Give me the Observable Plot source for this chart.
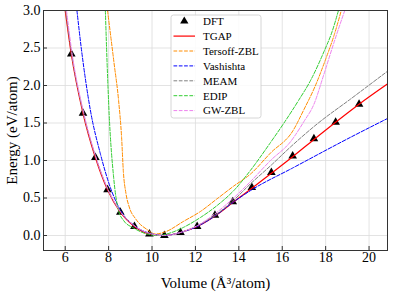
<!DOCTYPE html>
<html>
<head>
<meta charset="utf-8">
<script src="https://cdn.jsdelivr.net/npm/d3@7"></script>
<script src="https://cdn.jsdelivr.net/npm/@observablehq/plot@0.6"></script>
<style>
  html, body { margin: 0; padding: 0; background: #fff; }
  svg { display: block; }
</style>
</head>
<body>
<div id="chart"></div>
<script>
// ---- data ----
const xTicks = [6, 8, 10, 12, 14, 16, 18, 20];
const yTicks = [0, 0.5, 1.0, 1.5, 2.0, 2.5, 3.0];

const dftVol = [6.28, 6.82, 7.39, 7.95, 8.54, 9.19, 9.88, 10.57, 11.31, 12.08, 12.9, 13.72, 14.6, 15.5, 16.48, 17.46, 18.46, 19.54];
const dftE   = [2.42, 1.63, 1.04, 0.61, 0.31, 0.12, 0.02, 0.0, 0.04, 0.12, 0.27, 0.45, 0.64, 0.84, 1.06, 1.29, 1.51, 1.75];

const tgapVol = [6.0, 6.28, 6.82, 7.39, 7.95, 8.54, 9.19, 9.88, 10.57, 11.31, 12.08, 12.9, 13.72, 14.6, 15.5, 16.48, 17.46, 18.46, 19.54, 20.85];
const tgapE   = [3.0, 2.42, 1.63, 1.04, 0.61, 0.31, 0.12, 0.02, 0.0, 0.04, 0.12, 0.26, 0.44, 0.63, 0.83, 1.05, 1.28, 1.51, 1.75, 2.02];

const tersoffVol = [7.95, 8.25, 8.46, 8.6, 8.68, 8.8, 8.95, 9.25, 9.77, 10.15, 10.62, 11.46, 12.23, 13.0, 13.77, 14.54, 15.46, 16.5, 17.0, 17.5, 18.0, 18.4, 18.72];
const tersoffE   = [3.0, 2.3, 1.8, 1.3, 0.85, 0.56, 0.38, 0.22, 0.08, 0.02, 0.05, 0.19, 0.32, 0.49, 0.66, 0.82, 1.1, 1.4, 1.68, 1.98, 2.35, 2.68, 3.0];

const vashVol = [6.54, 6.74, 7.16, 7.62, 8.08, 8.54, 9.19, 9.88, 10.57, 11.31, 12.08, 12.9, 13.72, 14.6, 16.48, 19.15, 20.85];
const vashE   = [3.0, 2.5, 1.67, 1.09, 0.64, 0.34, 0.13, 0.03, 0.0, 0.04, 0.12, 0.26, 0.44, 0.61, 0.9, 1.31, 1.56];

const meamVol = [6.02, 6.28, 6.82, 7.39, 7.95, 8.54, 9.19, 9.88, 10.57, 11.31, 12.08, 12.9, 13.72, 14.54, 15.5, 16.38, 17.62, 19.15, 20.85];
const meamE   = [3.0, 2.45, 1.65, 1.06, 0.62, 0.32, 0.13, 0.03, 0.0, 0.04, 0.13, 0.27, 0.46, 0.69, 0.94, 1.18, 1.49, 1.82, 2.19];

const edipVol = [7.85, 7.93, 8.02, 8.23, 8.46, 8.69, 9.15, 9.77, 10.3, 10.9, 11.46, 12.23, 13.0, 13.77, 14.54, 15.46, 16.08, 16.75, 17.31, 17.92, 18.3, 18.59];
const edipE   = [3.0, 2.3, 1.65, 0.78, 0.33, 0.2, 0.1, 0.02, 0.0, 0.04, 0.11, 0.24, 0.4, 0.6, 0.87, 1.24, 1.5, 1.8, 2.07, 2.45, 2.72, 3.0];

const gwVol = [6.06, 6.3, 6.85, 7.4, 7.95, 8.54, 9.19, 9.88, 10.57, 11.31, 12.08, 12.9, 13.72, 14.54, 15.46, 16.38, 17.0, 17.46, 17.92, 18.38, 18.88];
const gwE   = [3.0, 2.46, 1.64, 1.06, 0.63, 0.32, 0.13, 0.03, 0.0, 0.04, 0.13, 0.29, 0.49, 0.72, 1.0, 1.25, 1.52, 1.75, 2.15, 2.57, 3.0];

const seriesNames = ["TGAP", "Tersoff-ZBL", "Vashishta", "MEAM", "EDIP", "GW-ZBL"];
const seriesColors = ["#ff0000", "#ff8c00", "#0000ff", "#808080", "#32cd32", "#ee82ee"];
const seriesDash = [null, "3.7,1.6", "3.7,1.6", "3.7,1.6", "3.7,1.6", "3.7,1.6"];
const seriesVols = [tgapVol, tersoffVol, vashVol, meamVol, edipVol, gwVol];
const seriesEs = [tgapE, tersoffE, vashE, meamE, edipE, gwE];

// ---- build tables ----
const dft = dftVol.map((v, i) => ({vol: v, e: dftE[i]}));
const series = seriesNames.map((name, k) => ({
  name, color: seriesColors[k], dash: seriesDash[k],
  data: seriesVols[k].map((v, i) => ({vol: v, e: seriesEs[k][i]}))
}));

const font = "'Liberation Serif', 'DejaVu Serif', serif";

const plot = Plot.plot({
  width: 396,
  height: 297,
  marginLeft: 43,
  marginRight: 9,
  marginTop: 10,
  marginBottom: 47,
  style: {fontFamily: font, fontSize: "13px", background: "#fff", color: "#000"},
  x: {domain: [5, 20.85]},
  y: {domain: [-0.2, 3.0]},
  marks: [
    Plot.gridX(xTicks, {stroke: "#dcdcdc", strokeOpacity: 1, strokeWidth: 0.8}),
    Plot.gridY(yTicks, {stroke: "#dcdcdc", strokeOpacity: 1, strokeWidth: 0.8}),
    // inward ticks
    Plot.axisX({ticks: xTicks, tickSize: 4, dy: -4, tickFormat: () => "", label: null, stroke: "#333"}),
    Plot.axisY({ticks: yTicks, tickSize: 4, dx: 4, tickFormat: () => "", label: null, stroke: "#333"}),
    // labels
    Plot.axisX({ticks: xTicks, tickSize: 0, tickPadding: 2, fontSize: 14, tickFormat: d => d3.format("d")(d),
      label: "Volume (Å³/atom)", labelAnchor: "center", labelArrow: "none", labelOffset: 37}),
    Plot.axisY({ticks: yTicks, tickSize: 0, tickPadding: 3, fontSize: 14, tickFormat: d => d3.format(".1f")(d),
      label: "Energy (eV/atom)", labelAnchor: "center", labelArrow: "none", labelOffset: 37}),
    Plot.dot(dft, {x: "vol", y: "e", symbol: "triangle", r: 3.2, fill: "#000", stroke: "none"}),
    ...series.map(s => Plot.line(s.data, {
      x: "vol", y: "e", stroke: s.color, strokeWidth: s.dash ? 1 : 1.2,
      strokeDasharray: s.dash, curve: "monotone-x", clip: true
    })),
    Plot.frame({stroke: "#333", strokeWidth: 1})
  ]
});

document.getElementById("chart").appendChild(plot);

const svg = d3.select(plot);
// axis titles
svg.selectAll('g[aria-label$="-axis label"] text').style("font-size", "15px").style("font-family", font);

// ---- legend inside plot area ----
const lg = svg.append("g").attr("text-anchor", "start");
lg.append("rect")
  .attr("x", 171).attr("y", 15).attr("width", 90).attr("height", 103)
  .attr("rx", 2.5).attr("fill", "#fff").attr("fill-opacity", 0.85)
  .attr("stroke", "#cccccc").attr("stroke-width", 0.8);
const rowY = i => 21.2 + i * 14.9;
const legendItems = [{name: "DFT", marker: true}].concat(series);
legendItems.forEach((it, i) => {
  const y = rowY(i);
  if (it.marker) {
    lg.append("path").attr("d", d3.symbol(d3.symbolTriangle, 30)())
      .attr("transform", `translate(184.3,${y})`).attr("fill", "#000");
  } else {
    lg.append("line").attr("x1", 173.5).attr("x2", 195).attr("y1", y).attr("y2", y)
      .attr("stroke", it.color).attr("stroke-width", it.dash ? 1 : 1.2)
      .attr("stroke-dasharray", it.dash);
  }
  lg.append("text").attr("x", 203).attr("y", y).attr("dy", "0.35em")
    .attr("text-anchor", "start").attr("fill", "#000")
    .style("font-family", font).style("font-size", "11px").text(it.name);
});
</script>
</body>
</html>
